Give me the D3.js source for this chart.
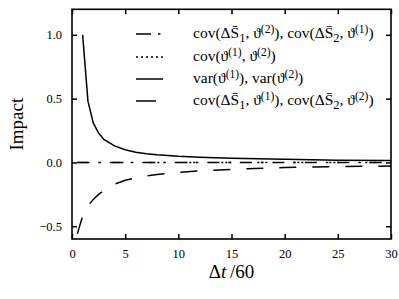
<!DOCTYPE html>
<html><head><meta charset="utf-8">
<script src="https://cdn.jsdelivr.net/npm/d3@7"></script>
<style>body{margin:0;background:#fff}svg{display:block}svg text{font-family:'Liberation Serif','DejaVu Serif',serif !important;fill:#000}</style>
</head><body><svg id="c" width="399" height="299"></svg>
<script>
// Data
const tVar = [1, 1.5, 2, 2.5, 3, 4, 5, 6, 7, 8, 10, 12, 15, 20, 25, 30];
const varVals = [1.0, 0.48, 0.31, 0.23, 0.18, 0.13, 0.10, 0.08, 0.068, 0.06, 0.048, 0.04, 0.032, 0.024, 0.018, 0.015];
const tCov1 = [0.5, 1, 1.5, 2, 2.5, 3, 4, 5, 6, 7, 8, 10, 12, 15, 20, 25, 30];
const cov1Vals = [-0.56, -0.42, -0.34, -0.29, -0.25, -0.22, -0.17, -0.14, -0.12, -0.105, -0.094, -0.078, -0.066, -0.054, -0.04, -0.033, -0.028];
const tCov2 = [0.5, 1, 2, 5, 10, 15, 20, 25, 30];
const cov2Vals = [0, 0, 0, 0, 0, 0, 0, 0, 0];
const tCovT = [0.5, 1, 2, 5, 10, 15, 20, 25, 30];
const covTVals = [0, 0, 0, 0, 0, 0, 0, 0, 0];
const xTicks = [0, 5, 10, 15, 20, 25, 30];
const yTicks = [-0.5, 0.0, 0.5, 1.0];

const FONT = "'Liberation Serif','DejaVu Serif',serif";
const svg = d3.select("#c");
const L = 72, R = 391, T = 9.3, B = 239;
const x = d3.scaleLinear().domain([0, 30]).range([L, R]);
const y = d3.scaleLinear().domain([-0.6, 1.2]).range([B, T]);
const fmtY = v => (v < 0 ? "\u2212" : "") + Math.abs(v).toFixed(1);

function styleAxis(g, showLabels) {
  g.attr("font-family", FONT);
  g.select(".domain").remove();
  g.selectAll(".tick line").attr("stroke", "#000").attr("stroke-width", 1.5);
  g.selectAll(".tick text").attr("font-size", 12.5).style("font-family", FONT);
  if (!showLabels) g.selectAll(".tick text").remove();
}
svg.append("g").attr("transform", `translate(0,${B})`)
  .call(d3.axisBottom(x).tickValues(xTicks).tickSize(-5).tickPadding(10).tickFormat(d3.format("d")))
  .call(g => styleAxis(g, true));
svg.append("g").attr("transform", `translate(0,${T})`)
  .call(d3.axisTop(x).tickValues(xTicks).tickSize(-5))
  .call(g => styleAxis(g, false));
svg.append("g").attr("transform", `translate(${L},0)`)
  .call(d3.axisLeft(y).tickValues(yTicks).tickSize(-5).tickPadding(10).tickFormat(fmtY))
  .call(g => styleAxis(g, true));
svg.append("g").attr("transform", `translate(${R},0)`)
  .call(d3.axisRight(y).tickValues(yTicks).tickSize(-5))
  .call(g => styleAxis(g, false));

svg.append("rect").attr("x", L).attr("y", T).attr("width", R - L).attr("height", B - T)
  .attr("fill", "none").attr("stroke", "#000").attr("stroke-width", 1.6);

const line = d3.line().x(d => x(d[0])).y(d => y(d[1]));
const series = [
  {t: tCovT, v: covTVals, dash: "12,9,2.5,9"},
  {t: tCov2, v: cov2Vals, dash: "2,2,2,2,2,26"},
  {t: tVar, v: varVals, dash: null},
  {t: tCov1, v: cov1Vals, dash: "17,16"}
];
series.forEach(s => {
  svg.append("path").datum(d3.zip(s.t, s.v)).attr("d", line)
    .attr("fill", "none").attr("stroke", "#000").attr("stroke-width", 1.5)
    .attr("stroke-dasharray", s.dash);
});

// Legend
const legRows = [34, 57, 79, 101];
const legDash = ["15,7,2.5,7", "2,3", null, "20,10"];
const lx0 = 136, lx1 = 163, tx = 193;
const legFs = 15.5;
function addLegendText(yy, parts) {
  const t = svg.append("text").attr("x", tx).attr("y", yy + 4).style("font-size", legFs + "px").style("font-family", FONT);
  parts.forEach(p => {
    const ts = t.append("tspan").text(p[0]);
    if (p[1] === "sub") ts.attr("dy", 3.5).style("font-size", "12.5px");
    else if (p[1] === "sup") ts.attr("dy", -5.5).style("font-size", "11.5px");
    if (p[2]) ts.attr("dy", p[2]);
  });
}
series.forEach((s, i) => {
  svg.append("line").attr("x1", lx0).attr("x2", lx1).attr("y1", legRows[i]).attr("y2", legRows[i])
    .attr("stroke", "#000").attr("stroke-width", 1.5).attr("stroke-dasharray", legDash[i]);
});
const SB = "S\u0304", TH = "\u03D1";
addLegendText(legRows[0], [["cov(\u0394" + SB], ["1", "sub"], [", " + TH, null, -3.5], ["(2)", "sup"], ["), cov(\u0394" + SB, null, 5.5], ["2", "sub"], [", " + TH, null, -3.5], ["(1)", "sup"], [")", null, 5.5]]);
addLegendText(legRows[1], [["cov(" + TH], ["(1)", "sup"], [", " + TH, null, 5.5], ["(2)", "sup"], [")", null, 5.5]]);
addLegendText(legRows[2], [["var(" + TH], ["(1)", "sup"], ["), var(" + TH, null, 5.5], ["(2)", "sup"], [")", null, 5.5]]);
addLegendText(legRows[3], [["cov(\u0394" + SB], ["1", "sub"], [", " + TH, null, -3.5], ["(1)", "sup"], ["), cov(\u0394" + SB, null, 5.5], ["2", "sub"], [", " + TH, null, -3.5], ["(2)", "sup"], [")", null, 5.5]]);

// Axis titles
const xt = svg.append("text").attr("x", (L + R) / 2).attr("y", 278).attr("text-anchor", "middle").style("font-size", "19px").style("font-family", FONT);
xt.append("tspan").text("\u0394");
xt.append("tspan").text("t").style("font-style", "italic");
xt.append("tspan").text("\u2009/60");
svg.append("text").attr("transform", `translate(23,${(T + B) / 2}) rotate(-90)`).attr("text-anchor", "middle")
  .style("font-size", "19px").style("font-family", FONT).text("Impact");
</script></body></html>
